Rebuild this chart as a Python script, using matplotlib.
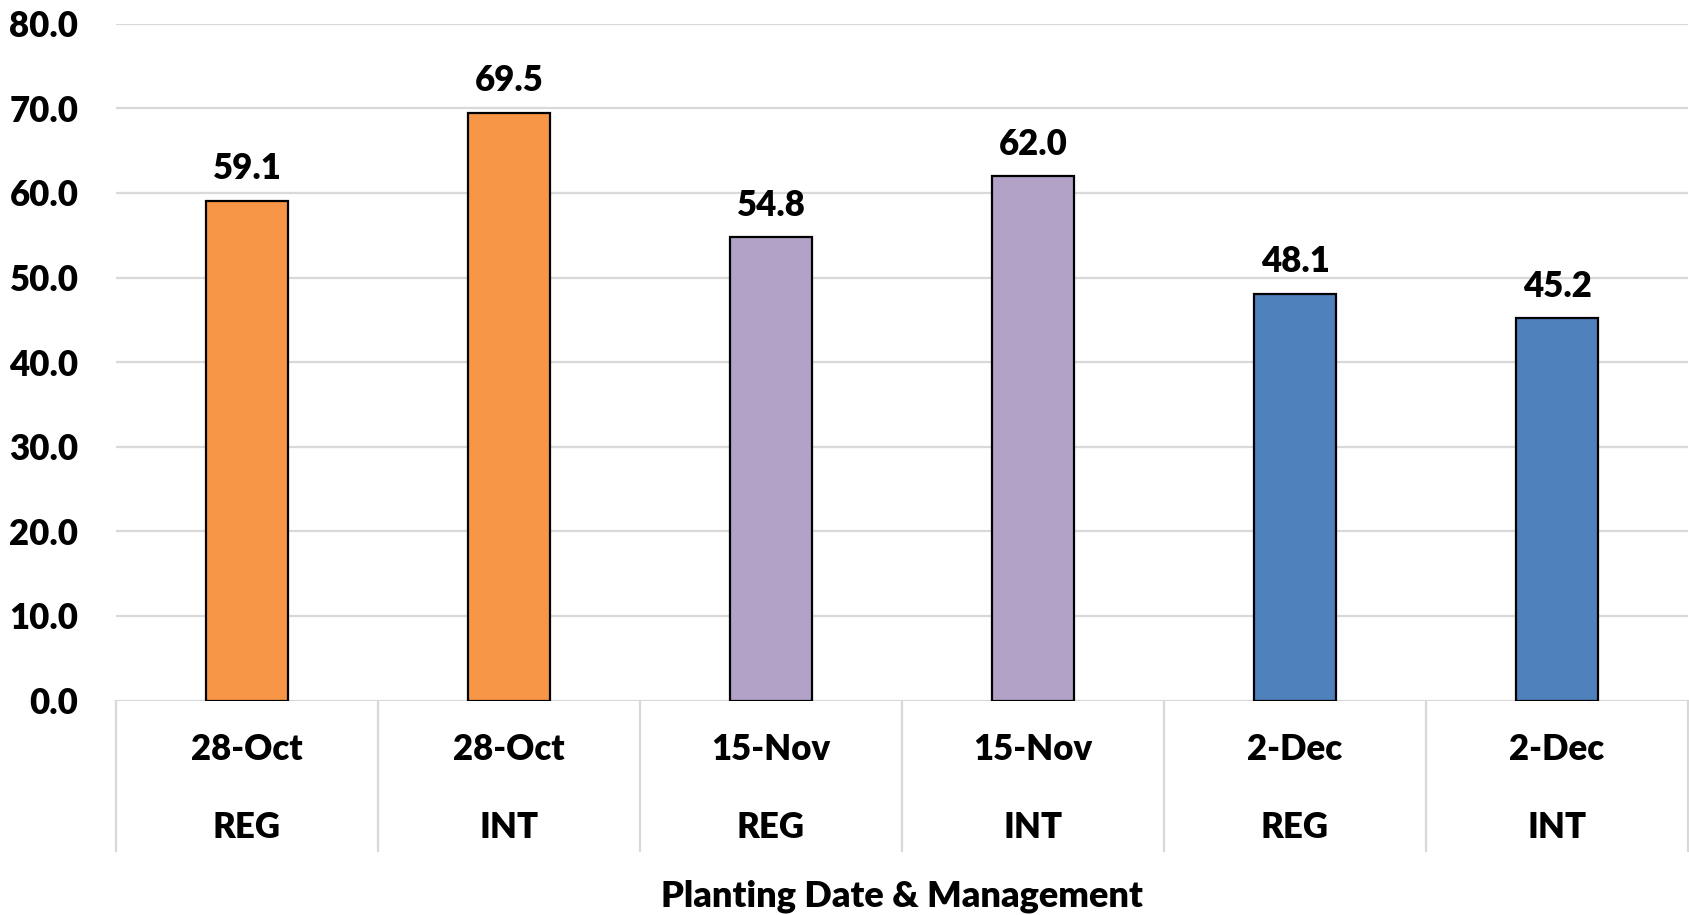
import matplotlib
matplotlib.use("Agg")
import matplotlib.pyplot as plt
import matplotlib.transforms as mtransforms

dates = ["28-Oct", "28-Oct", "15-Nov", "15-Nov", "2-Dec", "2-Dec"]
management = ["REG", "INT", "REG", "INT", "REG", "INT"]
values = [59.1, 69.5, 54.8, 62.0, 48.1, 45.2]
colors = ["#F79646", "#F79646", "#B2A2C7", "#B2A2C7", "#4F81BD", "#4F81BD"]
y_ticks = [0, 10, 20, 30, 40, 50, 60, 70, 80]
x_title = "Planting Date & Management"

plt.rcParams["font.family"] = ["Lato", "DejaVu Sans"]
WEIGHT = "heavy"
plt.rcParams["font.weight"] = WEIGHT

W, H = 1690, 915
fig = plt.figure(figsize=(W / 100, H / 100), dpi=100)
left, right, top, bottom = 116, 1688, 23.7, 700.6
ax = fig.add_axes([left / W, 1 - bottom / H, (right - left) / W, (bottom - top) / H])

n = len(values)
xs = list(range(n))
ax.bar(xs, values, width=0.31, color=colors, edgecolor="black", linewidth=1.6, zorder=3)

ax.set_xlim(-0.5, n - 0.5)
ax.set_ylim(0, 80)
ax.set_yticks(y_ticks)
ax.set_yticklabels([f"{v:.1f}" for v in y_ticks], fontsize=25, fontweight=WEIGHT)
ax.tick_params(axis="y", length=0, pad=27)
ax.set_xticks([])
ax.grid(axis="y", color="#D9D9D9", linewidth=1.6, zorder=0)
for s in ax.spines.values():
    s.set_visible(False)

# value labels above bars
for x, v in zip(xs, values):
    ax.annotate(f"{v:.1f}", (x, v), xytext=(0, 11), textcoords="offset points",
                ha="center", va="bottom", fontsize=25, fontweight=WEIGHT)

# category table under the axis
trans = mtransforms.blended_transform_factory(ax.transData, ax.transAxes)
ax_h = bottom - top
sep_bottom = -(851 - bottom) / ax_h
for b in [i - 0.5 for i in range(n + 1)]:
    ax.plot([b, b], [0, sep_bottom], transform=trans, color="#D9D9D9",
            linewidth=1.6, clip_on=False)
row1 = -(750 - bottom) / ax_h
row2 = -(827 - bottom) / ax_h
for x, d, m in zip(xs, dates, management):
    ax.text(x, row1, d, transform=trans, ha="center", va="center", fontsize=25, fontweight=WEIGHT)
    ax.text(x, row2, m, transform=trans, ha="center", va="center", fontsize=25, fontweight=WEIGHT)

fig.text((left + right) / 2 / W, 1 - 896 / H, x_title, ha="center", va="center",
         fontsize=26, fontweight=WEIGHT)

fig.savefig("out.png", dpi=100, facecolor="white")
